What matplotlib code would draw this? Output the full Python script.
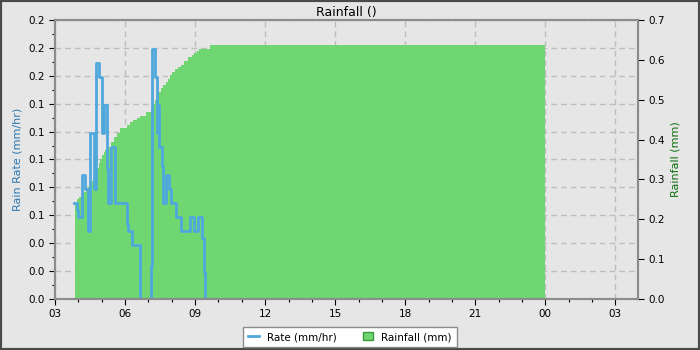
import matplotlib
matplotlib.use("Agg")
import matplotlib.pyplot as plt
import matplotlib.dates as mdates
import matplotlib.ticker as mticker
import pandas as pd
from matplotlib.lines import Line2D
from matplotlib.patches import Patch

# Rain rate (mm/hr), step series
rate_times = ["2024-05-01 03:49", "2024-05-01 03:57", "2024-05-01 04:00", "2024-05-01 04:09",
              "2024-05-01 04:17", "2024-05-01 04:24", "2024-05-01 04:30", "2024-05-01 04:39",
              "2024-05-01 04:46", "2024-05-01 04:54", "2024-05-01 05:01", "2024-05-01 05:07",
              "2024-05-01 05:13", "2024-05-01 05:17", "2024-05-01 05:24", "2024-05-01 05:34",
              "2024-05-01 06:04", "2024-05-01 06:07", "2024-05-01 06:18", "2024-05-01 06:38",
              "2024-05-01 07:06", "2024-05-01 07:09", "2024-05-01 07:10", "2024-05-01 07:16",
              "2024-05-01 07:21", "2024-05-01 07:24", "2024-05-01 07:28", "2024-05-01 07:34",
              "2024-05-01 07:38", "2024-05-01 07:44", "2024-05-01 07:52", "2024-05-01 07:59",
              "2024-05-01 08:10", "2024-05-01 08:23", "2024-05-01 08:47", "2024-05-01 08:57",
              "2024-05-01 09:08", "2024-05-01 09:17", "2024-05-01 09:23", "2024-05-01 09:25",
              "2024-05-02 03:58"]
rate_values = [0.069, 0.064, 0.059, 0.089, 0.079, 0.049, 0.119, 0.079,
               0.169, 0.159, 0.119, 0.139, 0.094, 0.069, 0.109, 0.069,
               0.054, 0.049, 0.039, 0.0, 0.024, 0.049, 0.179, 0.159,
               0.119, 0.139, 0.109, 0.095, 0.069, 0.089, 0.079, 0.069,
               0.059, 0.049, 0.059, 0.049, 0.059, 0.044, 0.019, 0.0, 0.0]

# Accumulated rainfall (mm)
rain_times = ["2024-05-01 03:51", "2024-05-01 03:57", "2024-05-01 04:02", "2024-05-01 04:09",
              "2024-05-01 04:14", "2024-05-01 04:19", "2024-05-01 04:24", "2024-05-01 04:29",
              "2024-05-01 04:34", "2024-05-01 04:40", "2024-05-01 04:45", "2024-05-01 04:49",
              "2024-05-01 04:52", "2024-05-01 04:56", "2024-05-01 05:00", "2024-05-01 05:05",
              "2024-05-01 05:09", "2024-05-01 05:16", "2024-05-01 05:23", "2024-05-01 05:31",
              "2024-05-01 05:39", "2024-05-01 05:46", "2024-05-01 05:52", "2024-05-01 06:04",
              "2024-05-01 06:12", "2024-05-01 06:20", "2024-05-01 06:30", "2024-05-01 06:38",
              "2024-05-01 06:55", "2024-05-01 07:08", "2024-05-01 07:13", "2024-05-01 07:16",
              "2024-05-01 07:22", "2024-05-01 07:25", "2024-05-01 07:32", "2024-05-01 07:38",
              "2024-05-01 07:45", "2024-05-01 07:50", "2024-05-01 07:55", "2024-05-01 08:01",
              "2024-05-01 08:08", "2024-05-01 08:16", "2024-05-01 08:23", "2024-05-01 08:31",
              "2024-05-01 08:41", "2024-05-01 08:52", "2024-05-01 08:58", "2024-05-01 09:06",
              "2024-05-01 09:10", "2024-05-01 09:38", "2024-05-02 00:00"]
rain_values = [0.242, 0.250, 0.257, 0.262, 0.268, 0.275, 0.282, 0.290,
               0.297, 0.305, 0.318, 0.328, 0.340, 0.350, 0.361, 0.368,
               0.374, 0.382, 0.395, 0.406, 0.417, 0.428, 0.430, 0.437,
               0.445, 0.449, 0.454, 0.459, 0.469, 0.478, 0.490, 0.499,
               0.510, 0.520, 0.530, 0.537, 0.545, 0.553, 0.562, 0.569,
               0.576, 0.581, 0.587, 0.596, 0.606, 0.613, 0.618, 0.622,
               0.627, 0.637, 0.637]

x_start = "2024-05-01 03:00"
x_end = "2024-05-02 03:58"

BG = "#e6e6e6"
BLUE = "#4fa8dc"
GREEN = "#6fd672"

rt = pd.to_datetime(rate_times)
rn = pd.to_datetime(rain_times)

fig = plt.figure(figsize=(7, 3.5), dpi=100, facecolor=BG)
ax = fig.add_axes([0.0786, 0.1457, 0.8328, 0.7972], facecolor=BG)
ax2 = ax.twinx()

ax.set_xlim(pd.Timestamp(x_start), pd.Timestamp(x_end))
ax.set_ylim(0, 0.2)
ax2.set_ylim(0, 0.7)

# rainfall is scaled by the right axis but drawn in the left one,
# so the grid stays under the fill and the rate line on top
ax.fill_between(rn, rain_values, 0, step="post", color=GREEN, linewidth=0,
                transform=ax2.transData, zorder=1)
ax.plot(rt, rate_values, drawstyle="steps-post", color=BLUE, linewidth=2, zorder=3)
ax.set_xlim(pd.Timestamp(x_start), pd.Timestamp(x_end))
ax.set_ylim(0, 0.2)

ax.yaxis.set_major_locator(mticker.MultipleLocator(0.02))
ax.yaxis.set_minor_locator(mticker.MultipleLocator(0.01))
ax.yaxis.set_major_formatter(mticker.FormatStrFormatter("%.1f"))
ax2.yaxis.set_major_locator(mticker.MultipleLocator(0.1))
ax2.yaxis.set_major_formatter(mticker.FormatStrFormatter("%.1f"))

ax.xaxis.set_major_locator(mdates.HourLocator(byhour=range(0, 24, 3)))
ax.xaxis.set_minor_locator(mdates.HourLocator())
ax.xaxis.set_major_formatter(mdates.DateFormatter("%H"))

ax.set_axisbelow(True)
ax.grid(True, which="major", color="#bdbdbd", linestyle=(0, (4, 3)), linewidth=1)

for a in (ax, ax2):
    for s in a.spines.values():
        s.set_color("#8c8c8c")
        s.set_linewidth(1.5)
    a.tick_params(labelsize=7.5, colors="black", length=4, width=0.8)
    a.tick_params(which="minor", length=2.5, width=0.8)

ax.set_ylabel("Rain Rate (mm/hr)", color="#2a78b4", fontsize=8)
ax2.set_ylabel("Rainfall (mm)", color="#0e6e0e", fontsize=8)
ax.set_title("Rainfall ()", fontsize=9, pad=3)

handles = [Line2D([0], [0], color=BLUE, linewidth=2),
           Patch(facecolor=GREEN, edgecolor="#3a9a3a")]
leg = fig.legend(handles, ["Rate (mm/hr)", "Rainfall (mm)"], loc="center",
                 bbox_to_anchor=(0.5, 0.037), ncol=2, fontsize=7.5,
                 fancybox=False, framealpha=1, edgecolor="#8c8c8c",
                 handlelength=1.0, handleheight=0.8, columnspacing=2.5,
                 borderpad=0.5)
leg.get_frame().set_linewidth(1)

fig.patches.append(plt.Rectangle((0, 0), 1, 1, transform=fig.transFigure,
                                 fill=False, edgecolor="#4a4a4a", linewidth=3))

fig.savefig("out.png", dpi=100, facecolor=BG)
